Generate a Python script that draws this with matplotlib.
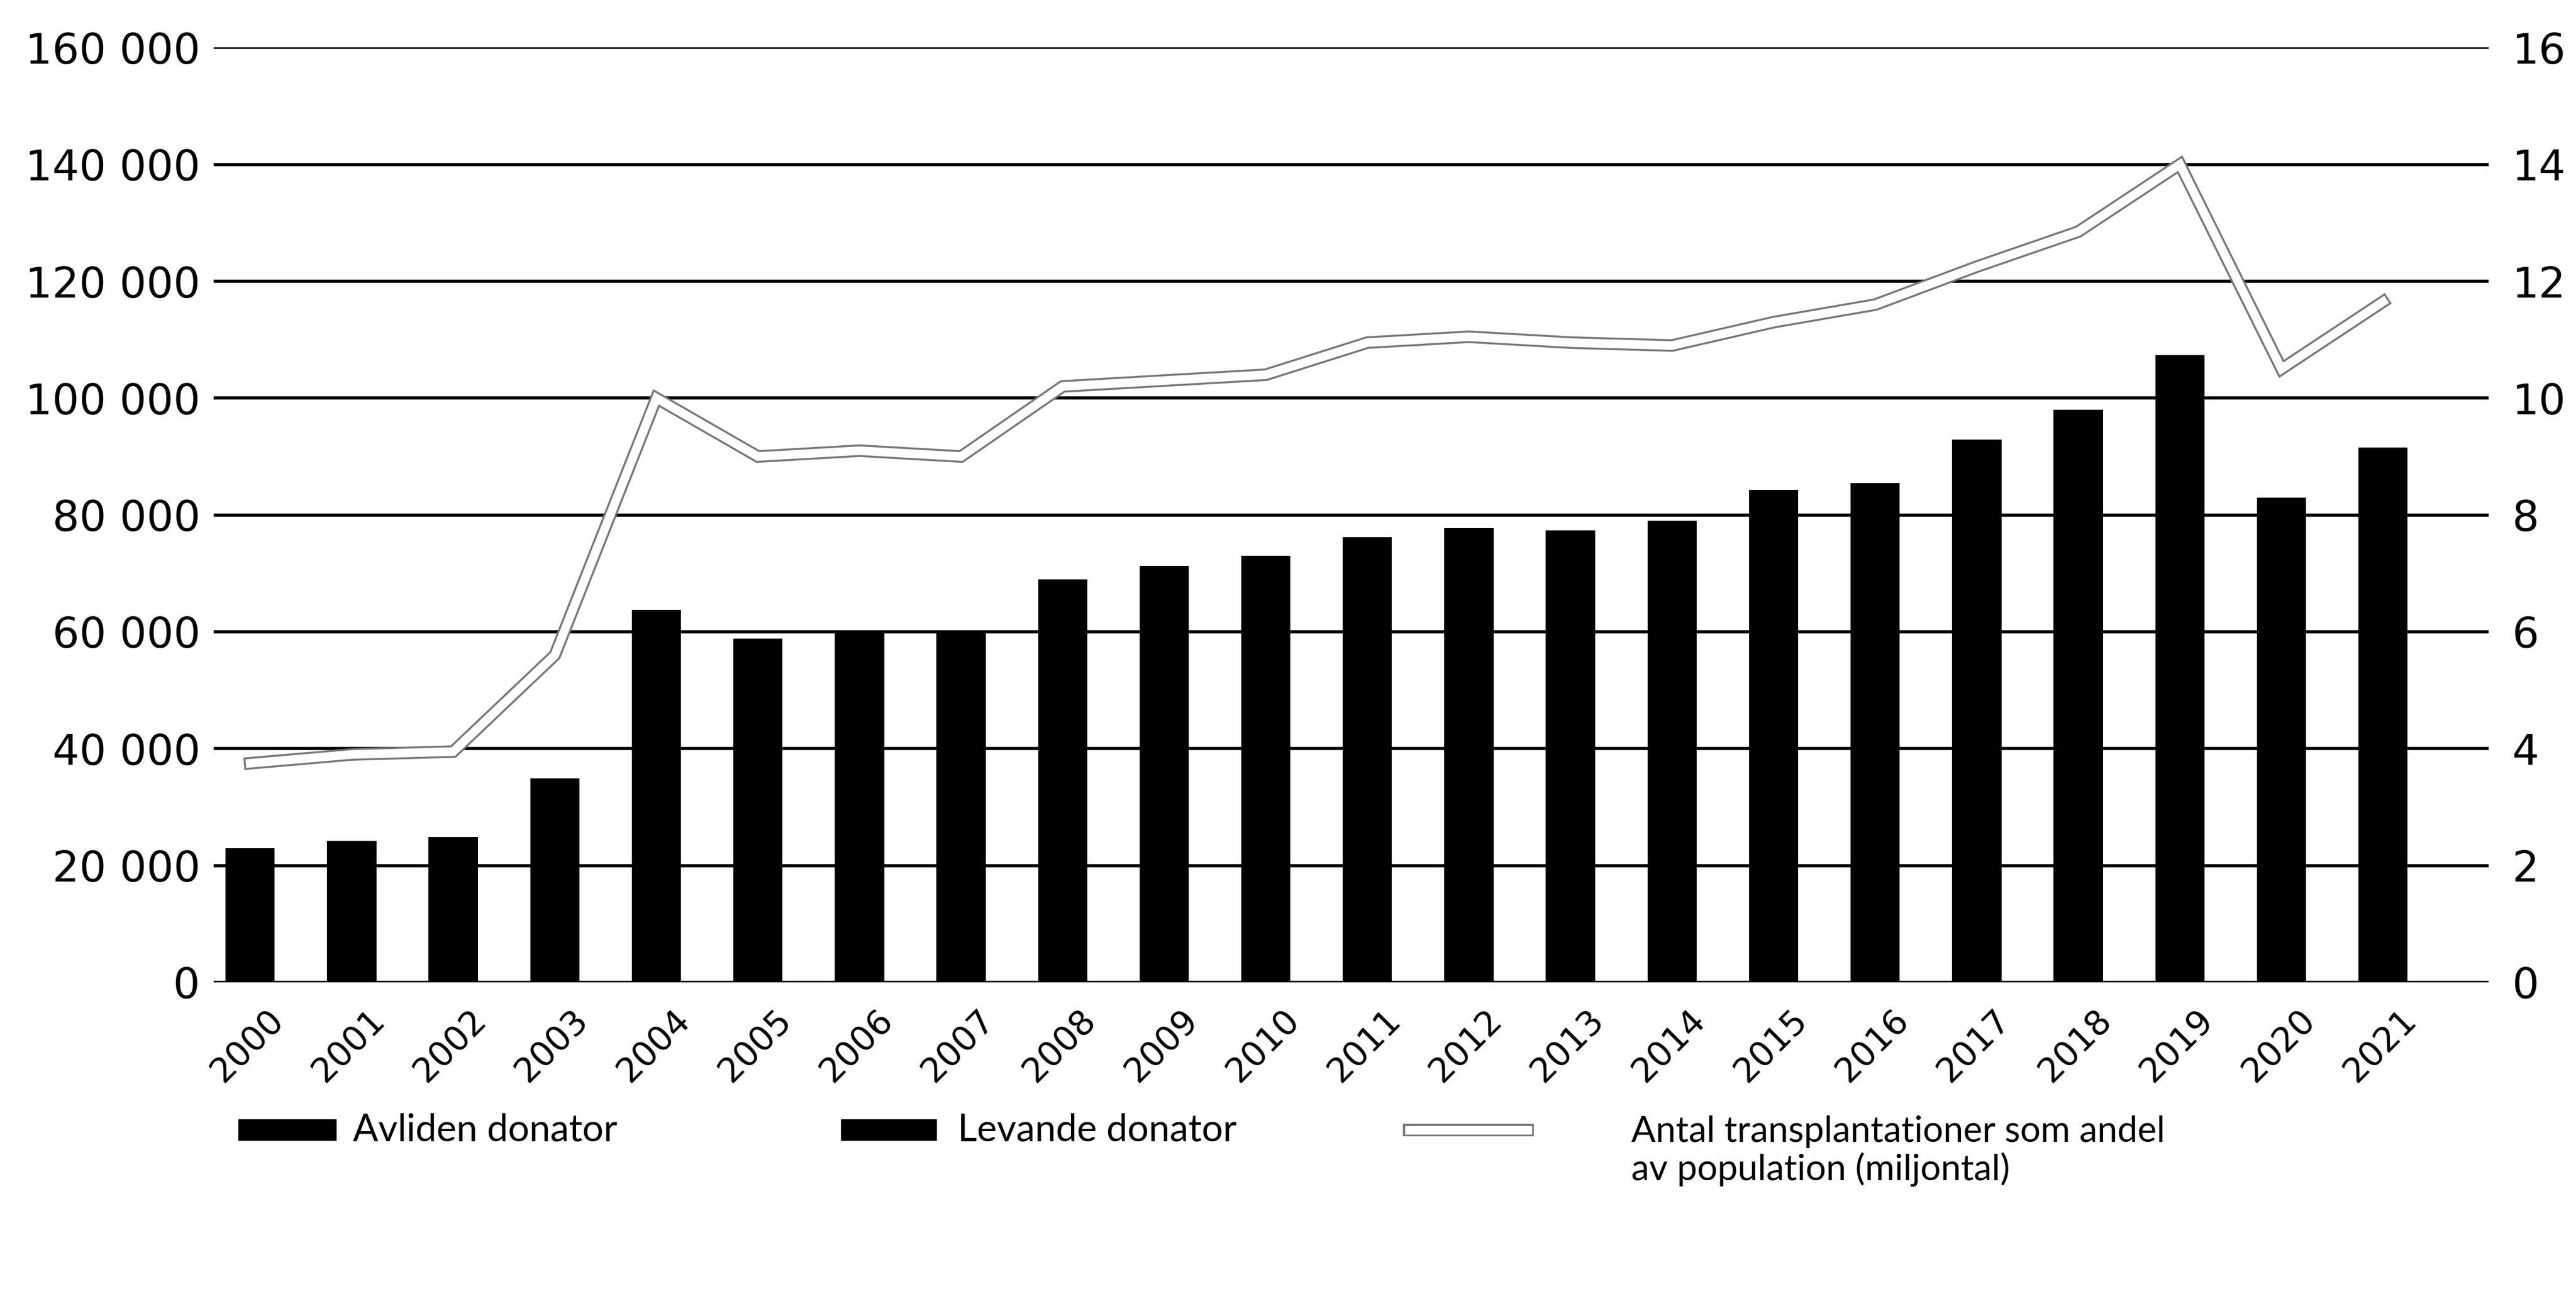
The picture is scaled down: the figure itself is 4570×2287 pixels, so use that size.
import numpy as np
import matplotlib
matplotlib.use("Agg")
import matplotlib.pyplot as plt
import matplotlib.patheffects as pe
from matplotlib.patches import Rectangle
from matplotlib.lines import Line2D
from matplotlib.transforms import ScaledTranslation

# data (bars all black, split between the two series is not visible)
years = [str(y) for y in range(2000, 2022)]
avliden = [14500, 15200, 15600, 21400, 39800, 36300, 36900, 37000, 42500, 43800, 45000,
           46700, 47700, 47400, 48000, 51300, 52000, 56900, 60000, 65900, 50000, 55500]
levande = [8500, 9000, 9300, 13500, 24000, 22500, 23000, 23000, 26500, 27500, 28000,
           29500, 30000, 30000, 31000, 33000, 33500, 36000, 38000, 41500, 33000, 36000]
per_million = [3.75, 3.9, 3.95, 5.6, 10.0, 9.0, 9.1, 9.0, 10.2, 10.3, 10.4,
               10.95, 11.05, 10.95, 10.9, 11.3, 11.6, 12.25, 12.85, 14.0, 10.5, 11.65]
left_ticks = list(range(0, 160001, 20000))
right_ticks = list(range(0, 17, 2))

legend_labels = ["Avliden donator", "Levande donator",
                 "Antal transplantationer som andel\nav population (miljontal)"]

tick_font = ["DejaVu Sans"]
legend_font = ["Lato", "DejaVu Sans"]

fig = plt.figure(figsize=(45.7, 22.87), dpi=100)
ax = fig.add_axes([0.0829, 0.2379, 0.8832, 0.7252])

x = np.arange(len(years))
width = 0.485
ax.bar(x, avliden, width, color="black", zorder=2)
ax.bar(x, levande, width, bottom=avliden, color="black", zorder=2)

ax.set_xlim(-0.36, 22.04)
ax.set_ylim(0, 160000)
ax.set_yticks(left_ticks)
ax.set_yticklabels([f"{v:,}".replace(",", " ") for v in left_ticks],
                   fontsize=54, family=tick_font)
for v in left_ticks:
    ax.axhline(v, color="black", lw=4, zorder=1)

ax.tick_params(axis="both", length=0)
ax.tick_params(axis="x", pad=0)
ax.tick_params(axis="y", pad=17)

ax.set_xticks(x)
ax.set_xticklabels(years, rotation=45, ha="right", va="center",
                   rotation_mode="anchor", fontsize=44, family=tick_font)
# move the rotated year labels down and right, as in the original
offset = ScaledTranslation(0.50, -0.58, fig.dpi_scale_trans)
for lab in ax.get_xticklabels():
    lab.set_transform(lab.get_transform() + offset)

for s in ax.spines.values():
    s.set_visible(False)

ax2 = ax.twinx()
ax2.set_ylim(0, 16)
ax2.set_yticks(right_ticks)
ax2.set_yticklabels([str(v) for v in right_ticks], fontsize=54, family=tick_font)
ax2.tick_params(axis="y", length=0, pad=30)
for s in ax2.spines.values():
    s.set_visible(False)

outline = [pe.Stroke(linewidth=16, foreground="#777777"), pe.Normal()]
ax2.plot(x, per_million, color="white", lw=11, path_effects=outline,
         solid_joinstyle="miter", zorder=3)

# legend, drawn by hand so the three entries sit where they do in the original
fig.patches.append(Rectangle((0.0925, 0.1154), 0.038, 0.0160, color="black",
                             transform=fig.transFigure, figure=fig))
fig.patches.append(Rectangle((0.3265, 0.1154), 0.037, 0.0160, color="black",
                             transform=fig.transFigure, figure=fig))
fig.lines.append(Line2D([0.547, 0.593], [0.1233, 0.1233], color="white", lw=11,
                        path_effects=outline, transform=fig.transFigure, figure=fig))
fig.text(0.137, 0.1233, legend_labels[0], va="center", ha="left",
         fontsize=48, family=legend_font)
fig.text(0.3718, 0.1233, legend_labels[1], va="center", ha="left",
         fontsize=48, family=legend_font)
fig.text(0.6333, 0.1345, legend_labels[2], va="top", ha="left",
         fontsize=46, family=legend_font, linespacing=1.15)

fig.savefig("out.png", dpi=100, facecolor="white")
